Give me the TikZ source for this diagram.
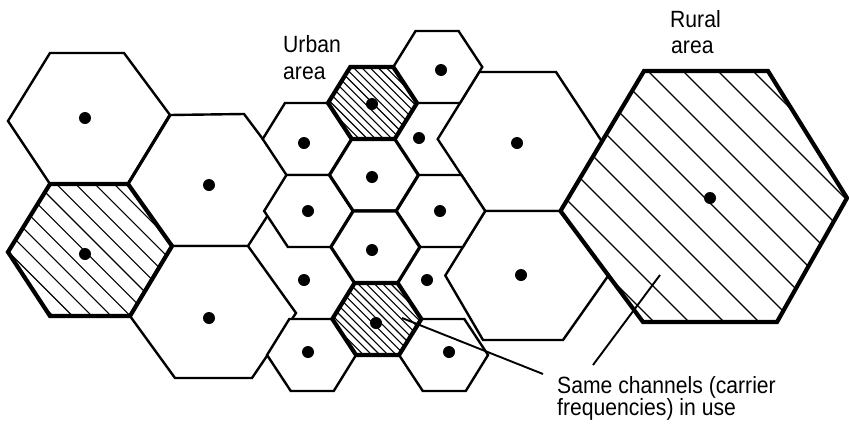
\documentclass[tikz,border=0pt]{standalone}
\usepackage{fontspec}
\newfontfamily\lab{Liberation Sans}[FakeStretch=0.9]
% small hexagon on a slightly sheared grid: #1 command, #2 options, #3 cx, #4 cy
\newcommand\smhexcmd[4]{#1#2 ({#3-44.5+0.02*(#4-103)},{#4}) -- ({#3-21.5+0.02*(#4-139)},{#4-36}) -- ({#3+21.5+0.02*(#4-139)},{#4-36}) -- ({#3+44.5+0.02*(#4-103)},{#4}) -- ({#3+21.5+0.02*(#4-67)},{#4+36}) -- ({#3-21.5+0.02*(#4-67)},{#4+36}) -- cycle;}
\newcommand\smhatched[2]{%
  \smhexcmd{\fill}{[white]}{#1}{#2}
  \begin{scope}
    \smhexcmd{\clip}{}{#1}{#2}
    \foreach \k in {-12,...,12}
      \draw[hatchline] ({#1+0.02*(#2-103)+\k*8.2-60},{#2-60}) -- ({#1+0.02*(#2-103)+\k*8.2+60},{#2+60});
  \end{scope}
  \smhexcmd{\draw}{[bold]}{#1}{#2}}
\begin{document}
\begin{tikzpicture}[x=1pt,y=-1pt,
  edge/.style={line width=2.4pt},
  mid/.style={line width=3.2pt},
  bold/.style={line width=4.2pt},
  hatchline/.style={line width=1.1pt},
  antenna/.style={fill=black},
  lab/.style={font=\lab\fontsize{23.5}{27}\selectfont, anchor=base west, inner sep=0pt},
  leader/.style={line width=1.9pt}]
\useasboundingbox (0,0) rectangle (849,426);

% ---------- large cells, left ----------
\draw[edge,fill=white] (8,121) -- (50,53) -- (124,53) -- (170,115) -- (128,184) -- (50,184) -- cycle; % H1
\draw[edge,fill=white] (128,184) -- (170,115) -- (244,114) -- (292,178) -- (248,246) -- (172,246) -- cycle; % H3
\draw[mid] (170,115) -- (128,184);
\draw[edge,fill=white] (130,316) -- (172,246) -- (248,246) -- (296,313) -- (252,378) -- (175,378) -- cycle; % H4
% H2 hatched
\fill[white] (50,184) -- (128,184) -- (172,246) -- (130,316) -- (50,316) -- (8,252) -- cycle;
\begin{scope}
  \clip (50,184) -- (128,184) -- (172,246) -- (130,316) -- (50,316) -- (8,252) -- cycle;
  \foreach \k in {-10,...,10}
    \draw[hatchline] ({103+\k*19.3-150},{250-150}) -- ({103+\k*19.3+150},{250+150});
\end{scope}
\draw[bold] (50,184) -- (128,184) -- (172,246) -- (130,316) -- (50,316) -- (8,252) -- cycle;

% ---------- large cells, right ----------
\draw[edge,fill=white] (437.7,139.1) -- (479.2,72) -- (556,72) -- (601.9,141.5) -- (560.5,211) -- (485.2,211) -- cycle; % H5
\draw[edge,fill=white] (445.3,275.5) -- (485.2,211) -- (560.5,211) -- (608.4,275.5) -- (563,340) -- (483,340) -- cycle; % H6
% rural hatched
\fill[white] (560.5,211) -- (644,71) -- (768,71) -- (847,198) -- (777,322) -- (643,322) -- cycle;
\begin{scope}
  \clip (560.5,211) -- (644,71) -- (768,71) -- (847,198) -- (777,322) -- (643,322) -- cycle;
  \foreach \k in {-7,...,7}
    \draw[hatchline] ({707+\k*35-200},{200-200}) -- ({707+\k*35+200},{200+200});
\end{scope}
\draw[bold] (560.5,211) -- (644,71) -- (768,71) -- (847,198) -- (777,322) -- (643,322) -- cycle;

% ---------- small (urban) cells ----------
\smhexcmd{\draw}{[edge,fill=white]}{438.5}{67}   % A
\smhexcmd{\draw}{[edge,fill=white]}{306.5}{139}  % C
\smhexcmd{\draw}{[edge,fill=white]}{306.5}{211}  % F
\smhexcmd{\draw}{[edge,fill=white]}{438.5}{211}  % G
\smhexcmd{\draw}{[edge,fill=white]}{306.5}{355}  % L
\smhexcmd{\draw}{[edge,fill=white]}{438.5}{355}  % M
\smhexcmd{\draw}{[mid,fill=white]}{372.5}{175}   % E
\smhexcmd{\draw}{[mid,fill=white]}{372.5}{247}   % H
\smhatched{372.5}{103}                            % B
\smhatched{372.5}{319}                            % K

% ---------- antennas ----------
\foreach \p in {(85,118),(85,254),(209,185),(209,318),(517,143),(521,275),(710,198),
  (441,70),(372,104),(304,143),(419,138),(372,177),(308,211),(440,211),(372,250),
  (304,280),(427,280),(376,323),(308,352),(449,352)}
  \fill[antenna] \p circle[radius=6pt];

% ---------- labels ----------
\node[lab] (urban1) at (283,52) {Urban};
\node[lab] (urban2) at (283,79) {area};
\node[lab] (rural1) at (670,27) {Rural};
\node[lab] (rural2) at (671,53) {area};
\node[lab] (same1) at (557,393) {Same channels (carrier};
\node[lab] (same2) at (557,415) {frequencies) in use};

% ---------- leaders ----------
\coordinate (kin) at (402,318);
\coordinate (kend) at (543,374);
\coordinate (rin) at (660,275);
\coordinate (rend) at (593,365);
\draw[leader] (kin) -- (kend);
\draw[leader] (rend) -- (rin);
\end{tikzpicture}
\end{document}
